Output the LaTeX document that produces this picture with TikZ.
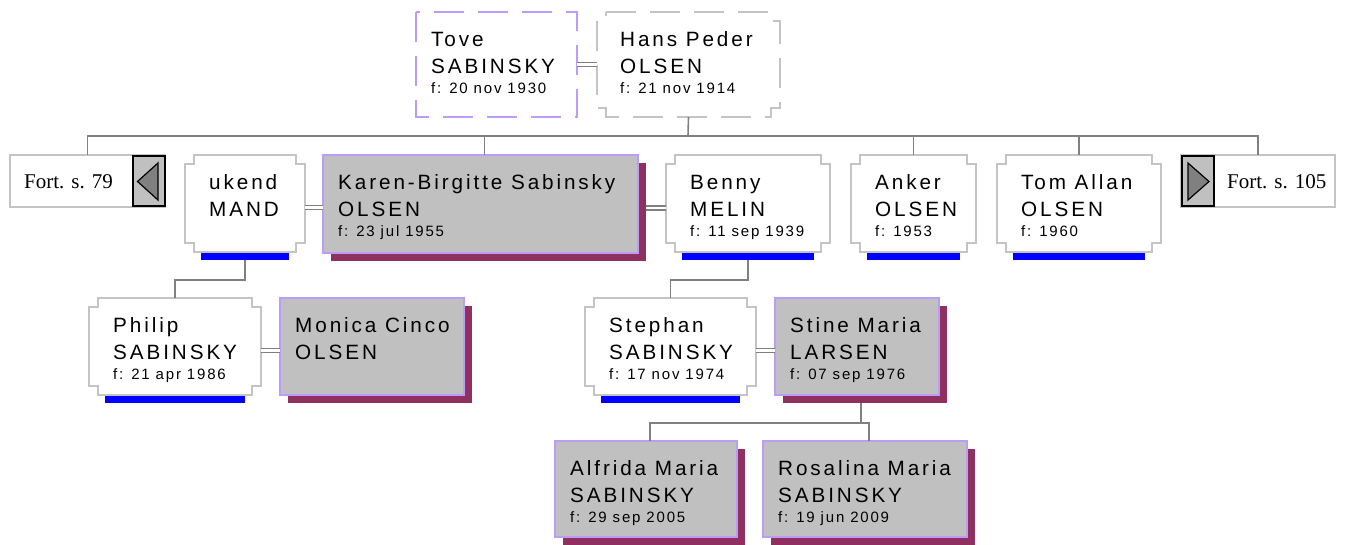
\documentclass[tikz,border=0pt]{standalone}
\usepackage{fontspec}
\usetikzlibrary{fit,calc}
\newfontfamily\nmfont[LetterSpace=14]{Liberation Sans}
\newfontfamily\dtfont[LetterSpace=12]{Liberation Sans}
\newfontfamily\ftfont{Liberation Serif}
\definecolor{edgegrey}{HTML}{C4C4C4}
\definecolor{linegrey}{HTML}{808080}
\definecolor{fillgrey}{HTML}{C0C0C0}
\definecolor{lilac}{HTML}{BC9CF8}
\definecolor{shadowc}{HTML}{903060}
\definecolor{barblue}{HTML}{0000FF}
\tikzset{
  conn/.style={draw=linegrey, line width=1.6pt},
  dbl/.style={draw=linegrey, line width=1.3pt, double=white, double distance=2.6pt},
  notched/.style={draw=edgegrey, line width=1.8pt, fill=white},
  greybox/.style={draw=lilac, line width=1.8pt, fill=fillgrey},
  shadowbox/.style={fill=shadowc},
  bluebar/.style={fill=barblue},
  holder/.style={inner sep=0pt, draw=none},
  nm/.style={anchor=base west, inner sep=0pt, text=black, font=\nmfont\fontsize{20.7}{24}\selectfont},
  dt/.style={anchor=base west, inner sep=0pt, text=black, font=\dtfont\fontsize{15}{17}\selectfont},
  ft/.style={anchor=base west, inner sep=0pt, text=black, font=\ftfont\fontsize{21}{24}\selectfont},
  contbox/.style={draw=edgegrey, line width=1.8pt, fill=white},
  arrowbox/.style={draw=black, line width=1.4pt, fill=fillgrey},
  arrowtri/.style={draw=black, line width=1.2pt, fill=linegrey, line join=miter},
  dashedge/.style={line width=1.5pt, dash pattern=on 30pt off 14pt, fill=white},
}
% name, x1, y1, x2, y2, line1, line2, date
\newcommand\whiteperson[8]{%
  \fill[bluebar] (#2+16,#5+0.5) rectangle (#4-16,#5+8);
  \draw[notched] (#2+9,#3) -- (#4-9,#3) -- (#4-9,#3+9) -- (#4,#3+9) -- (#4,#5-9) -- (#4-9,#5-9) -- (#4-9,#5) -- (#2+9,#5) -- (#2+9,#5-9) -- (#2,#5-9) -- (#2,#3+9) -- (#2+9,#3+9) -- cycle;
  \node[holder, fit={(#2,#3) (#4,#5+8)}] (#1) {};
  \node[nm] (#1-a) at (#2+24,#3+34.5) {#6};
  \node[nm] (#1-b) at (#2+24,#3+61) {#7};
  \node[dt] (#1-c) at (#2+24,#3+81) {#8};
}
\newcommand\greyperson[8]{%
  \fill[shadowbox] (#2+8,#3+8) rectangle (#4+8,#5+8);
  \draw[greybox] (#2,#3) rectangle (#4,#5);
  \node[holder, fit={(#2,#3) (#4+8,#5+8)}] (#1) {};
  \node[nm] (#1-a) at (#2+15,#3+34.5) {#6};
  \node[nm] (#1-b) at (#2+15,#3+61) {#7};
  \node[dt] (#1-c) at (#2+15,#3+81) {#8};
}
\begin{document}
\begin{tikzpicture}[x=1pt,y=-1pt]
\useasboundingbox (0,0) rectangle (1345,544);
\fill[white] (0,0) rectangle (1345,544);

% --- top couple ---
\draw[dashedge, draw=lilac] (416,12) rectangle (577,117);
\node[holder, fit={(416,12) (577,117)}] (tove) {};
\node[nm] (tove-a) at (431,46.5) {Tove};
\node[nm] (tove-b) at (431,73) {SABINSKY};
\node[dt] (tove-c) at (431,93) {f: 20 nov 1930};

\draw[dashedge, draw=edgegrey]
  (606,12) -- (771,12) -- (771,21) -- (780,21) -- (780,108) -- (771,108) -- (771,117) -- (606,117) -- (606,108) -- (597,108) -- (597,21) -- (606,21) -- cycle;
\node[holder, fit={(597,12) (780,117)}] (hans) {};
\node[nm] (hans-a) at (620,46.5) {Hans Peder};
\node[nm] (hans-b) at (620,73) {OLSEN};
\node[dt] (hans-c) at (620,93) {f: 21 nov 1914};

% --- continuation boxes ---
\draw[contbox] (10,155) rectangle (165,207);
\draw[arrowbox] (133,156) rectangle (165,206);
\draw[arrowtri] (158,163) -- (137.5,181.5) -- (158,200) -- cycle;
\node[holder, fit={(10,155) (165,207)}] (fort79) {};
\node[ft] (fort79-t) at (24,188) {Fort. s. 79};

\draw[contbox] (1181,155) rectangle (1335,207);
\draw[arrowbox] (1182,156) rectangle (1214,206);
\draw[arrowtri] (1188,163) -- (1209,181.5) -- (1188,200) -- cycle;
\node[holder, fit={(1181,155) (1335,207)}] (fort105) {};
\node[ft] (fort105-t) at (1227,188) {Fort. s. 105};

% --- second row ---
\whiteperson{ukend}{185}{155}{305}{252}{ukend}{MAND}{}
\greyperson{karen}{323}{155}{638}{253}{Karen-Birgitte Sabinsky}{OLSEN}{f: 23 jul 1955}
\whiteperson{benny}{666}{155}{830}{252}{Benny}{MELIN}{f: 11 sep 1939}
\whiteperson{anker}{851}{155}{976}{252}{Anker}{OLSEN}{f: 1953}
\whiteperson{tom}{997}{155}{1161}{252}{Tom Allan}{OLSEN}{f: 1960}

% --- third row ---
\whiteperson{philip}{89}{298}{261}{395}{Philip}{SABINSKY}{f: 21 apr 1986}
\greyperson{monica}{280}{298}{464}{395}{Monica Cinco}{OLSEN}{}
\whiteperson{stephan}{585}{298}{756}{395}{Stephan}{SABINSKY}{f: 17 nov 1974}
\greyperson{stine}{775}{298}{939}{395}{Stine Maria}{LARSEN}{f: 07 sep 1976}

% --- fourth row ---
\greyperson{alfrida}{555}{441}{737}{537}{Alfrida Maria}{SABINSKY}{f: 29 sep 2005}
\greyperson{rosalina}{763}{441}{967}{537}{Rosalina Maria}{SABINSKY}{f: 19 jun 2009}

% --- connectors ---
\coordinate (rail) at (688,136);
\draw[dbl] (tove.east) -- (hans.west);
\draw[conn] (hans.south) -- (rail);
\draw[conn] (fort79.north) -- (fort79.north |- rail) -- (fort105.north |- rail) -- (fort105.north);
\draw[conn] (karen.north) -- (karen.north |- rail);
\draw[conn] (anker.north) -- (anker.north |- rail);
\draw[conn] (tom.north) -- (tom.north |- rail);

\draw[dbl] (ukend.east) -- (ukend.east -| karen.west);
\draw[dbl] (karen.east) -- (karen.east -| benny.west);
\draw[dbl] (philip.east) -- (philip.east -| monica.west);
\draw[dbl] (stephan.east) -- (stephan.east -| stine.west);

\draw[conn] (ukend.south) -- ++(0,20) -| (philip.north);
\draw[conn] (benny.south) -- ++(0,20) -| (stephan.north);
\draw[conn] (stine.south) -- ++(0,20) coordinate (kidrail);
\draw[conn] (alfrida.north) |- (kidrail) -| (rosalina.north);
\end{tikzpicture}
\end{document}
